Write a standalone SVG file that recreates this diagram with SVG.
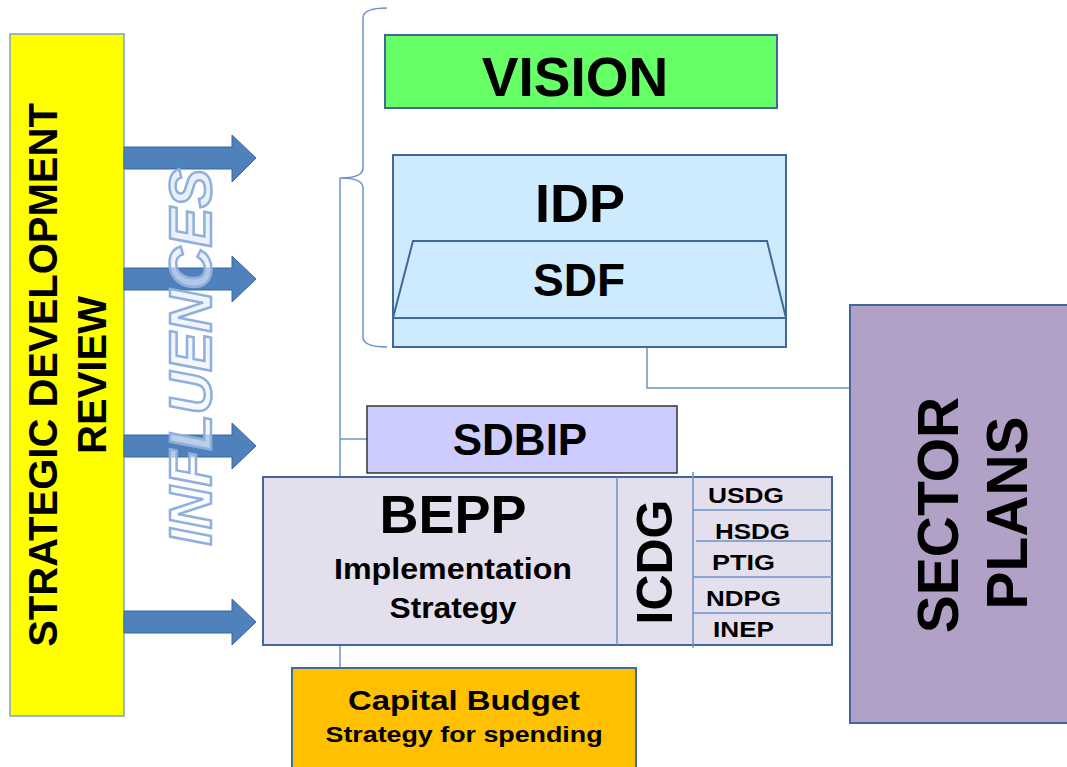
<svg xmlns="http://www.w3.org/2000/svg" width="1067" height="767" viewBox="0 0 1067 767">
  <defs>
    <style>
      text { font-family: "Liberation Sans", Arial, sans-serif; font-weight: bold; fill: #000; }
      .box { stroke: #41689a; stroke-width: 2; }
      .conn { fill: none; stroke: #6d93c8; stroke-width: 1.5; }
      .arrow { fill: #4f81bd; stroke: #3a679e; stroke-width: 1; }
      .grid { stroke: #6d93c8; stroke-width: 1.5; fill: none; }
      .small { font-size: 22px; }
    </style>
    <linearGradient id="glow" x1="0" y1="0" x2="1" y2="0">
      <stop offset="0" stop-color="#ffffff"/>
      <stop offset="1" stop-color="#dbe6f6"/>
    </linearGradient>
  </defs>

  <!-- Strategic development review column -->
  <g id="review">
    <rect x="10" y="34" width="114" height="682" fill="#ffff00" stroke="#7ea0cf" stroke-width="1.5"/>
    <text transform="translate(57,375) rotate(-90)" text-anchor="middle" font-size="40">STRATEGIC DEVELOPMENT</text>
    <text transform="translate(106,375) rotate(-90)" text-anchor="middle" font-size="40">REVIEW</text>
  </g>

  <!-- Influence arrows -->
  <g id="arrows">
    <path class="arrow" d="M124,147 H232 V135 L256,158 L232,182 V169 H124 Z"/>
    <path class="arrow" d="M124,268 H232 V256 L256,279 L232,302 V290 H124 Z"/>
    <path class="arrow" d="M124,435 H232 V423 L256,446 L232,469 V457 H124 Z"/>
    <path class="arrow" d="M124,611 H232 V599 L256,622 L232,645 V633 H124 Z"/>
  </g>

  <!-- Influences label -->
  <g id="influences">
    <text transform="translate(211,357) rotate(-90)" text-anchor="middle" font-size="59" font-style="italic"
          stroke="#8fb0de" stroke-width="2.5" style="fill:url(#glow);fill-opacity:0.65">INFLUENCES</text>
  </g>

  <!-- Connectors -->
  <g id="connectors">
    <path class="conn" d="M387,8 Q363,8 363,18 V168 Q363,178 340,178 Q363,178 363,188 V337 Q363,347 387,347"/>
    <path class="conn" d="M340,178 V477"/>
    <path class="conn" d="M340,439 H367"/>
    <path class="conn" d="M340,645 V668"/>
    <path class="conn" d="M647,347 V388 H851"/>
  </g>

  <!-- Vision -->
  <g id="vision">
    <rect class="box" x="385" y="35" width="392" height="73" fill="#66ff66"/>
    <text x="575" y="96" text-anchor="middle" font-size="55">VISION</text>
  </g>

  <!-- IDP with SDF -->
  <g id="idp">
    <rect class="box" x="393" y="155" width="393" height="192" fill="#cdebfc"/>
    <path d="M413,241 H767 L786,318 H393 Z" fill="#cdebfc" stroke="#41689a" stroke-width="2"/>
    <text x="580" y="222" text-anchor="middle" font-size="54">IDP</text>
    <text x="579" y="296" text-anchor="middle" font-size="46">SDF</text>
  </g>

  <!-- Sector plans -->
  <g id="sector-plans">
    <rect class="box" x="850" y="305" width="230" height="418" fill="#b1a1c7"/>
    <text transform="translate(958,515) rotate(-90)" text-anchor="middle" font-size="57">SECTOR</text>
    <text transform="translate(1027,513) rotate(-90)" text-anchor="middle" font-size="57">PLANS</text>
  </g>

  <!-- SDBIP -->
  <g id="sdbip">
    <rect x="367" y="406" width="310" height="67" fill="#ccccff" stroke="#333" stroke-width="1.5"/>
    <text x="520" y="455" text-anchor="middle" font-size="44">SDBIP</text>
  </g>

  <!-- BEPP with ICDG grants -->
  <g id="bepp">
    <rect class="box" x="263" y="477" width="569" height="168" fill="#e4dfec"/>
    <path class="grid" d="M617,477 V645 M693,472 V648 M693,510 H832 M696,541 H832 M693,577 H832 M693,613 H832"/>
    <text x="453" y="533" text-anchor="middle" font-size="54">BEPP</text>
    <text x="453" y="579" text-anchor="middle" font-size="30" textLength="238" lengthAdjust="spacingAndGlyphs">Implementation</text>
    <text x="453" y="618" text-anchor="middle" font-size="30" textLength="127" lengthAdjust="spacingAndGlyphs">Strategy</text>
    <text transform="translate(672,562) rotate(-90)" text-anchor="middle" font-size="50">ICDG</text>
    <text class="small" x="708" y="503" textLength="76" lengthAdjust="spacingAndGlyphs">USDG</text>
    <text class="small" x="715" y="539" textLength="75" lengthAdjust="spacingAndGlyphs">HSDG</text>
    <text class="small" x="712" y="570" textLength="63" lengthAdjust="spacingAndGlyphs">PTIG</text>
    <text class="small" x="706" y="606" textLength="75" lengthAdjust="spacingAndGlyphs">NDPG</text>
    <text class="small" x="713" y="637" textLength="61" lengthAdjust="spacingAndGlyphs">INEP</text>
  </g>

  <!-- Capital budget -->
  <g id="capital-budget">
    <rect class="box" x="292" y="668" width="344" height="110" fill="#ffc000"/>
    <text x="464" y="710" text-anchor="middle" font-size="28" textLength="232" lengthAdjust="spacingAndGlyphs">Capital Budget</text>
    <text x="464" y="742" text-anchor="middle" font-size="22" textLength="277" lengthAdjust="spacingAndGlyphs">Strategy for spending</text>
  </g>
</svg>
